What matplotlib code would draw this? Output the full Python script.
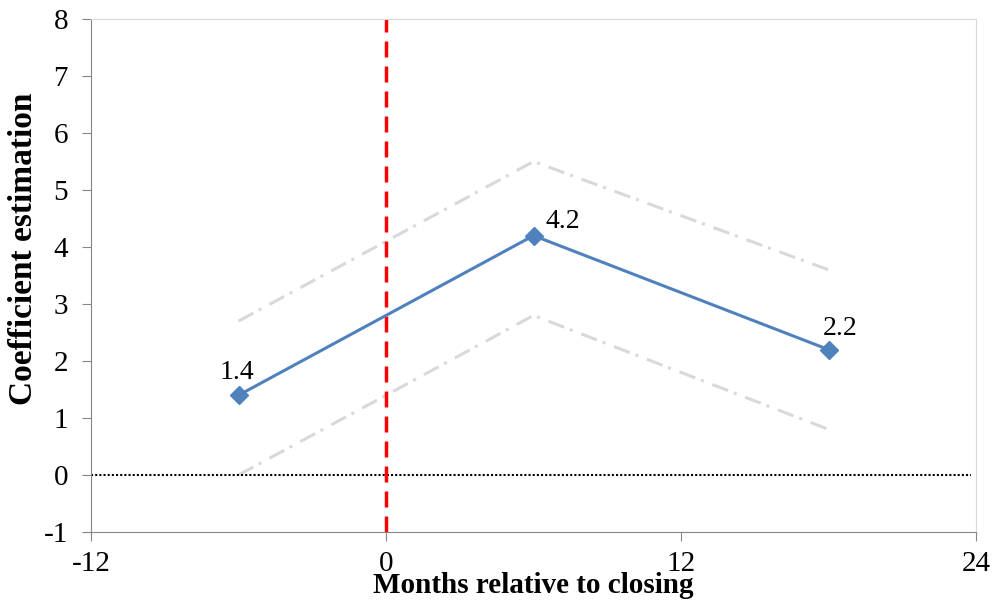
import matplotlib.pyplot as plt

# event-study estimates by months relative to closing
months = [-6, 6, 18]
coef = [1.4, 4.2, 2.2]
upper = [2.7, 5.5, 3.6]
lower = [0.0, 2.8, 0.8]
zero_x = [-12, 23.8]
zero_y = [0, 0]

plt.rcParams['font.family'] = ['Liberation Serif', 'DejaVu Serif']
plt.rcParams['axes.unicode_minus'] = False

fig = plt.figure(figsize=(9.97, 6.09), dpi=100)
ax = fig.add_axes([0.0913, 0.1264, 0.8877, 0.8424])

# confidence bands
band_style = (0, (5.5, 2, 1, 3))
ax.plot(months, upper, color='#D9D9D9', lw=2.2, linestyle=band_style)
ax.plot(months, lower, color='#D9D9D9', lw=2.2, linestyle=band_style)

# zero reference and closing date
ax.plot(zero_x, zero_y, color='black', lw=1.5, linestyle=(0, (1, 1)))
ax.axvline(0, color='#FF0000', lw=2.5, linestyle=(0, (4.6, 2.6)))

ax.plot(months, coef, color='#4F81BD', lw=2.2, marker='D', markersize=9)

offsets = [(-1, 11.5, 'center'), (8.6, 5.8, 'left'), (8, 10.8, 'center')]
for m, c, (dx, dy, ha) in zip(months, coef, offsets):
    ax.annotate(f'{c:.1f}', (m, c), textcoords='offset points', xytext=(dx, dy),
                ha=ha, va='baseline', fontsize=20)

ax.set_xlim(-12, 24)
ax.set_ylim(-1, 8)
ax.set_xticks([-12, 0, 12, 24])
ax.set_yticks(range(-1, 9))
ax.tick_params(axis='both', color='#868686', length=6.5, direction='out', labelsize=21)
ax.tick_params(axis='x', pad=7)
ax.tick_params(axis='y', pad=10)

for side in ['left', 'bottom']:
    ax.spines[side].set_color('#868686')
for side in ['top', 'right']:
    ax.spines[side].set_color('#D9D9D9')

fig.text(0.535, 1 - 593 / 609, 'Months relative to closing', fontsize=21,
         fontweight='bold', ha='center', va='baseline')
fig.text(24 / 997, 1 - 249 / 609, 'Coefficient estimation', fontsize=24,
         fontweight='bold', rotation=90, ha='center', va='center')

plt.savefig('out.png', dpi=100)
